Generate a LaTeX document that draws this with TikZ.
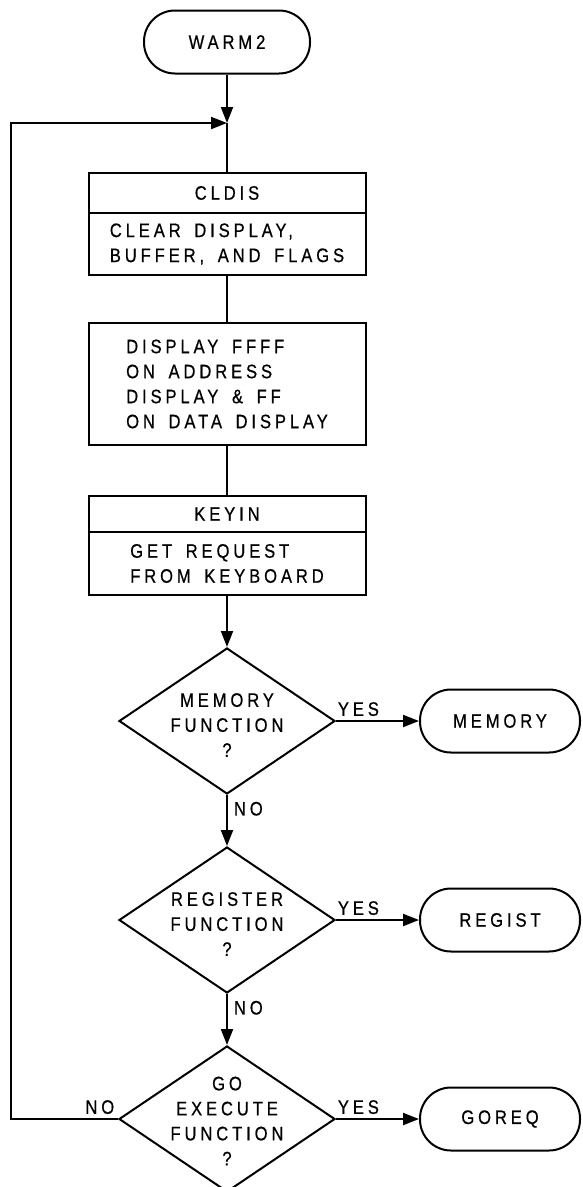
\documentclass[tikz,border=0pt]{standalone}
\usepackage{fontspec}
\newfontfamily\lett[FakeStretch=0.85,LetterSpace=20,WordSpace=1.6,FakeBold=0.6]{Liberation Sans}
\usetikzlibrary{arrows.meta,shapes.geometric}
\begin{document}
\begin{tikzpicture}[x=1pt,y=-1pt,
  every node/.style={font=\lett\fontsize{19.5pt}{25pt}\selectfont},
  ln/.style={line width=2pt},
  arr/.style={ln,-{Triangle[length=16pt,width=12pt]}},
  term/.style={draw,ln,rounded corners=31pt,minimum width=166pt,minimum height=63pt,inner sep=0pt},
  proc/.style={draw,ln,minimum width=277pt,inner sep=0pt,align=left},
  dec/.style={draw,ln,diamond,minimum width=216pt,minimum height=146pt,inner sep=0pt},
  dtext/.style={align=center,inner sep=0pt},
  lbl/.style={inner sep=2pt}
]
\useasboundingbox (0,0) rectangle (582,1187);
\node[term] (warm) at (227,42) {WARM2};
\coordinate (j) at (227,123);
\node[proc,minimum height=40pt] (cldisT) at (227,193) {CLDIS};
\node[proc,minimum height=62pt] (cldisB) at (227,244) {CLEAR DISPLAY,\\BUFFER, AND FLAGS};
\node[proc,minimum height=122pt] (disp) at (227,384) {DISPLAY FFFF\\ON ADDRESS\\DISPLAY \& FF\\ON DATA DISPLAY};
\node[proc,minimum height=36pt] (keyT) at (227,514) {KEYIN};
\node[proc,minimum height=63pt] (keyB) at (227,563.5) {GET REQUEST\\FROM KEYBOARD};
\node[dec] (d1) at (227,721) {};
\node[dtext] (d1t) at (227,725) {MEMORY\\FUNCTION\\?};
\node[dec] (d2) at (227,920) {};
\node[dtext] (d2t) at (227,924) {REGISTER\\FUNCTION\\?};
\node[dec] (d3) at (227,1119) {};
\node[dtext] (d3t) at (227,1121) {GO\\EXECUTE\\FUNCTION\\?};
\node[term,minimum width=160pt] (mem) at (500,721) {MEMORY};
\node[term,minimum width=160pt] (reg) at (500,920) {REGIST};
\node[term,minimum width=160pt] (goreq) at (500,1119) {GOREQ};
\coordinate (lc) at (11,1119);

\draw[arr] (warm.south) -- (j);
\draw[ln] (j) -- (cldisT.north);
\draw[ln] (cldisB.south) -- (disp.north);
\draw[ln] (disp.south) -- (keyT.north);
\draw[arr] (keyB.south) -- (d1.north);
\draw[arr] (d1.south) -- node[lbl,right,pos=0.27,xshift=4pt]{NO} (d2.north);
\draw[arr] (d2.south) -- node[lbl,right,pos=0.27,xshift=4pt]{NO} (d3.north);
\draw[arr] (d1.east) -- node[lbl,above,pos=0.27,yshift=2pt]{YES} (mem.west);
\draw[arr] (d2.east) -- node[lbl,above,pos=0.27,yshift=2pt]{YES} (reg.west);
\draw[arr] (d3.east) -- node[lbl,above,pos=0.27,yshift=2pt]{YES} (goreq.west);
\draw[arr] (d3.west) -- node[lbl,above,pos=0.17,yshift=2pt]{NO} (lc) |- (j);
\end{tikzpicture}
\end{document}
